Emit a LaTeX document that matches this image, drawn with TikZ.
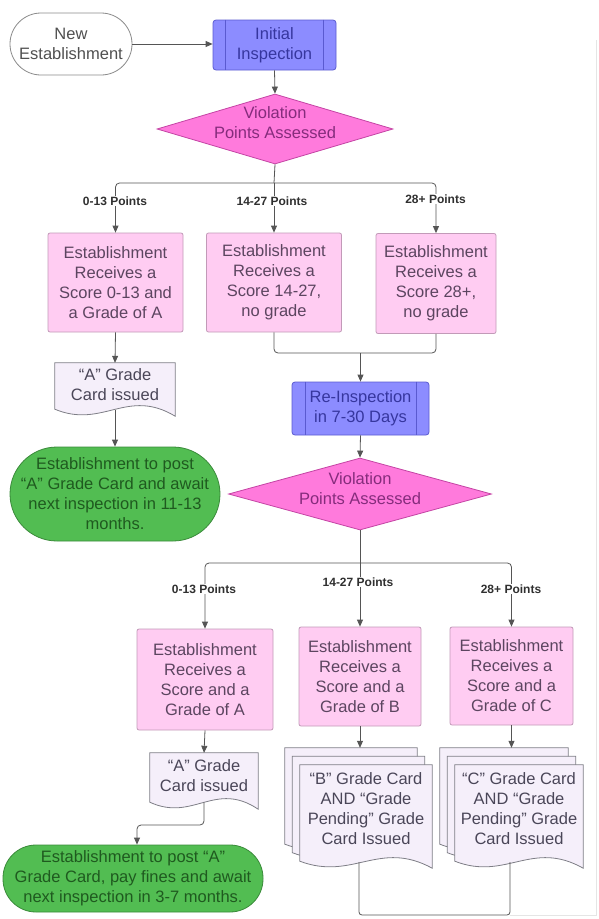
\documentclass[tikz,border=0pt]{standalone}
\usepackage{fontspec}
\setmainfont{Liberation Sans}
\usetikzlibrary{arrows.meta,calc,shapes.geometric,backgrounds}
\definecolor{pinkfill}{HTML}{FFCCF2}
\definecolor{pinkline}{HTML}{C29AB8}
\definecolor{pinktext}{HTML}{5C4560}
\definecolor{diafill}{HTML}{FF7ADC}
\definecolor{dialine}{HTML}{C444A4}
\definecolor{diatext}{HTML}{852C7C}
\definecolor{bluefill}{HTML}{8C8CFF}
\definecolor{blueline}{HTML}{5A5AD0}
\definecolor{bluetext}{HTML}{36369E}
\definecolor{docfill}{HTML}{F5EFFA}
\definecolor{docline}{HTML}{7E7E86}
\definecolor{doctext}{HTML}{4A4658}
\definecolor{greenfill}{HTML}{52BD52}
\definecolor{greenline}{HTML}{3A8A3A}
\definecolor{greentext}{HTML}{1F5A1F}
\definecolor{startline}{HTML}{8A8A8A}
\definecolor{starttext}{HTML}{505050}
\definecolor{conncol}{HTML}{555555}
\definecolor{lbltext}{HTML}{303030}
\newcommand{\docpath}[2]{(#1.north west) -- (#1.north east) -- ($(#1.south east)+(0,#2+5)$) .. controls ($(#1.south west)!0.6!(#1.south east)+(0,#2-24)$) and ($(#1.south west)!0.4!(#1.south east)+(0,#2+18)$) .. ($(#1.south west)+(0,#2-2)$) -- cycle}
\tikzset{
  base/.style={font=\fontsize{16.5}{20}\selectfont, align=center, inner sep=2pt},
  startbox/.style={base, draw=startline, fill=white, text=starttext, line width=0.8pt},
  pinkbox/.style={base, draw=pinkline, fill=pinkfill, text=pinktext, rounded corners=2pt, line width=0.8pt},
  procbox/.style={base, draw=blueline, fill=bluefill, text=bluetext, rounded corners=3pt, line width=0.8pt},
  procline/.style={draw=blueline, line width=0.8pt},
  dia/.style={diamond, draw=dialine, fill=diafill, inner sep=0pt, line width=0.8pt},
  diatextstyle/.style={base, text=diatext},
  docbox/.style={base, text=doctext, inner sep=1.5pt},
  docshape/.style={draw=docline, fill=docfill, line width=0.8pt},
  greenbox/.style={base, draw=greenline, fill=greenfill, text=greentext, line width=0.8pt},
  conn/.style={draw=conncol, line width=0.8pt},
  arr/.style={conn, -{Triangle[length=7pt,width=6pt]}},
  faintline/.style={draw=black!10, line width=0.6pt},
  lbl/.style={font=\bfseries\fontsize{12}{14}\selectfont, text=lbltext, fill=white, inner sep=1pt}
}
\begin{document}
\begin{tikzpicture}[x=1pt,y=-1pt]
\useasboundingbox (0,0) rectangle (599,919);

% ---------- top part ----------
\node[startbox, minimum width=122pt, minimum height=62pt, rounded corners=31pt] (new) at (71,44) {New\\Establishment};
\node[procbox, minimum width=123pt, minimum height=50pt] (init) at (274.5,45) {Initial\\Inspection};
\draw[procline] ([xshift=13pt]init.north west) -- ([xshift=13pt]init.south west);
\draw[procline] ([xshift=-13pt]init.north east) -- ([xshift=-13pt]init.south east);

\node[dia, minimum width=236pt, minimum height=70pt,
      label={[diatextstyle, yshift=6pt]center:{Violation\\Points Assessed}}] (d1) at (275,129) {};

\coordinate (j1) at (274,183);
\node[pinkbox, minimum width=135pt, minimum height=99pt] (a1) at (115.5,282.5) {Establishment\\Receives a\\Score 0-13 and\\a Grade of A};
\node[pinkbox, minimum width=135pt, minimum height=99pt] (b1) at (274,282.5) {Establishment\\Receives a\\Score 14-27,\\no grade};
\node[pinkbox, minimum width=120pt, minimum height=100pt] (c1) at (436,283.5) {Establishment\\Receives a\\Score 28+,\\no grade};

\node[docbox, minimum width=120pt, minimum height=44pt] (doca1) at (115,385) {“A” Grade\\Card issued};
\node[greenbox, minimum width=210pt, minimum height=94pt, rounded corners=47pt] (g1) at (115,494) {Establishment to post\\“A” Grade Card and await\\next inspection in 11-13\\months.};

\coordinate (m1) at (360.5,353);
\node[procbox, minimum width=137pt, minimum height=53pt] (re) at (360.5,408.5) {Re-Inspection\\in 7-30 Days};
\draw[procline] ([xshift=14pt]re.north west) -- ([xshift=14pt]re.south west);
\draw[procline] ([xshift=-13pt]re.north east) -- ([xshift=-13pt]re.south east);

\node[dia, minimum width=263pt, minimum height=72pt,
      label={[diatextstyle, yshift=5pt]center:{Violation\\Points Assessed}}] (d2) at (360,494) {};

% ---------- bottom part ----------
\coordinate (j2) at (360,563);
\node[pinkbox, minimum width=136pt, minimum height=101pt] (a2) at (205,679.5) {Establishment\\Receives a\\Score and a\\Grade of A};
\node[pinkbox, minimum width=122pt, minimum height=99pt] (b2) at (360,676.5) {Establishment\\Receives a\\Score and a\\Grade of B};
\node[pinkbox, minimum width=123pt, minimum height=98pt] (c2) at (511.5,676) {Establishment\\Receives a\\Score and a\\Grade of C};

\node[docbox, minimum width=108pt, minimum height=46pt] (doca2) at (204,776) {“A” Grade\\Card issued};
\coordinate (k2) at (137,825);
\node[greenbox, minimum width=260pt, minimum height=67pt, rounded corners=33pt] (g2) at (133,878.5) {Establishment to post “A”\\Grade Card, pay fines and await\\next inspection in 3-7 months.};

\node[docbox, minimum width=132pt, minimum height=88pt] (bback) at (351,792) {};
\node[docbox, minimum width=132pt, minimum height=88pt] (bmid) at (358.5,800.5) {};
\node[docbox, minimum width=132pt, minimum height=88pt] (bfront) at (366,809) {“B” Grade Card\\AND “Grade\\Pending” Grade\\Card Issued};
\node[docbox, minimum width=128pt, minimum height=88pt] (cback) at (504,792) {};
\node[docbox, minimum width=128pt, minimum height=88pt] (cmid) at (511.5,800.5) {};
\node[docbox, minimum width=128pt, minimum height=88pt] (cfront) at (519,809) {“C” Grade Card\\AND “Grade\\Pending” Grade\\Card Issued};

\begin{pgfonlayer}{background}
  \path[docshape] \docpath{doca1}{4};
  \path[docshape] \docpath{doca2}{5};
  \path[docshape] \docpath{bback}{10};
  \path[docshape] \docpath{bmid}{10};
  \path[docshape] \docpath{bfront}{10};
  \path[docshape] \docpath{cback}{10};
  \path[docshape] \docpath{cmid}{10};
  \path[docshape] \docpath{cfront}{10};
\end{pgfonlayer}

% ---------- connectors ----------
\draw[arr] (new.east) -- (new.east -| init.west);
\draw[arr] (init.south) -- (d1.north);
\draw[conn] (d1.south) -- (j1);
\draw[arr, rounded corners=4pt] (j1) -| (a1.north);
\draw[arr, rounded corners=4pt] (j1) -| (c1.north);
\draw[arr] (j1) -- (b1.north);
\node[lbl] (l1) at (115,201) {0-13 Points};
\node[lbl] (l2) at (272,201) {14-27 Points};
\node[lbl] (l3) at (435.5,199) {28+ Points};

\draw[arr] (a1.south) -- (doca1.north);
\draw[arr] ($(doca1.south)+(0,2.5)$) -- (g1.north);
\draw[conn, rounded corners=4pt] (b1.south) |- (m1) -| (c1.south);
\draw[arr] (m1) -- (re.north);
\draw[arr] (re.south) -- (d2.north);
\draw[conn] (d2.south) -- (j2);
\draw[arr, rounded corners=4pt] (j2) -| (a2.north);
\draw[arr, rounded corners=4pt] (j2) -| (c2.north);
\draw[arr] (j2) -- (b2.north);
\node[lbl] (l4) at (204,589) {0-13 Points};
\node[lbl] (l5) at (358,582) {14-27 Points};
\node[lbl] (l6) at (511,589) {28+ Points};

\draw[arr] (a2.south) -- (doca2.north);
\draw[arr, rounded corners=4pt] ($(doca2.south)+(0,3.5)$) |- (k2) -- (k2 |- g2.north);
\draw[arr] (b2.south) -- (b2.south |- bback.north);
\draw[arr] (c2.south) -- (c2.south |- cback.north);

\coordinate (bout) at ($(bfront.south)+(-7,9)$);
\coordinate (cout) at ($(cfront.south)+(-9,9)$);
\coordinate (bb) at (359,915);
\coordinate (edge) at (596,40);
\draw[conn, rounded corners=3pt] (bout) -- (bout |- bb) -| (cout);
\draw[faintline] (cout |- bb) -| (edge);
\end{tikzpicture}
\end{document}
